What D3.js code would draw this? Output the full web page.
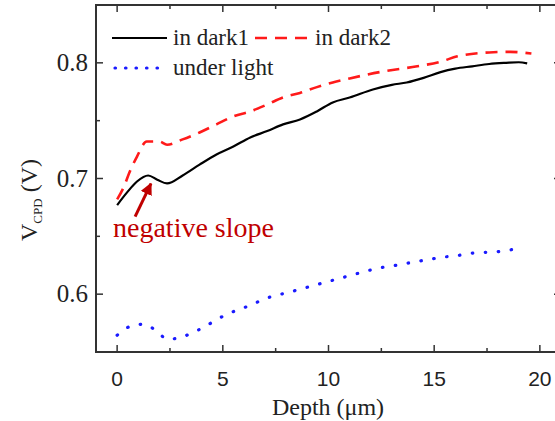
<!DOCTYPE html>
<html>
<head>
<meta charset="utf-8">
<script src="https://cdn.jsdelivr.net/npm/d3@7"></script>
<style>
  body { margin: 0; background: #fff; }
  svg { display: block; }
</style>
</head>
<body>
<script>
// Values
const dark1 = [
  [0, 0.677], [0.47, 0.688], [0.94, 0.6974], [1.47, 0.7026], [1.9, 0.699], [2.36, 0.6957],
  [3.1, 0.7026], [3.9, 0.712], [4.7, 0.7208], [5.5, 0.7277], [6.3, 0.7355], [7.1, 0.741],
  [7.85, 0.7468], [8.65, 0.751], [9.45, 0.758], [10.2, 0.7658], [11.0, 0.770], [12.1, 0.777],
  [13.0, 0.781], [13.7, 0.783], [14.5, 0.787], [15.3, 0.792], [16.0, 0.795], [16.8, 0.797],
  [17.6, 0.799], [18.4, 0.800], [19.0, 0.8005], [19.4, 0.7995]
];
const dark2 = [
  [0, 0.682], [0.3, 0.692], [0.6, 0.706], [0.94, 0.719], [1.4, 0.732], [2.0, 0.732],
  [2.36, 0.7292], [3.1, 0.7338], [3.9, 0.7398], [4.7, 0.7468], [5.5, 0.7537], [6.3, 0.758],
  [7.1, 0.764], [7.85, 0.770], [8.65, 0.774], [9.45, 0.779], [10.2, 0.783], [11.0, 0.7865],
  [12.6, 0.7926], [14.2, 0.797], [15.3, 0.801], [16.1, 0.8056], [17.6, 0.809], [18.6, 0.8095],
  [19.6, 0.808]
];
const underLight = [
  [0, 0.5645], [0.6, 0.572], [1.28, 0.574], [1.8, 0.569], [2.4, 0.561], [3.07, 0.563],
  [3.6, 0.567], [4.16, 0.572], [4.7, 0.578], [5.25, 0.583], [5.8, 0.587], [6.4, 0.591],
  [6.9, 0.5955], [7.55, 0.599], [8.2, 0.602], [8.8, 0.605], [9.4, 0.608], [10.0, 0.611],
  [10.6, 0.614], [11.2, 0.617], [11.8, 0.620], [12.5, 0.623], [13.2, 0.625], [13.8, 0.627],
  [14.1, 0.628], [14.75, 0.630], [15.4, 0.632], [16.0, 0.633], [16.6, 0.635], [17.2, 0.636],
  [17.9, 0.6365], [18.5, 0.638], [19.2, 0.640]
];
const xTicks = [0, 5, 10, 15, 20];
const yTicks = [0.6, 0.7, 0.8];
const legendLabels = ["in dark1", "in dark2", "under light"];
const annotation = "negative slope";

const width = 555, height = 421;
const margin = { left: 96, top: 5, right: -6, bottom: 69 };

const svg = d3.select("body").append("svg")
  .attr("width", width)
  .attr("height", height);

const x = d3.scaleLinear().domain([-1, 21]).range([margin.left, width - margin.right]);
const y = d3.scaleLinear().domain([0.55, 0.85]).range([height - margin.bottom, margin.top]);

const axisColor = "#333";
const serif = "'Liberation Serif', 'Times New Roman', serif";
const sans = "'Liberation Sans', Arial, sans-serif";

// frame
svg.append("rect")
  .attr("x", x(-1)).attr("y", y(0.85))
  .attr("width", x(21) - x(-1)).attr("height", y(0.55) - y(0.85))
  .attr("fill", "none").attr("stroke", axisColor).attr("stroke-width", 2);

// inward ticks on all four sides
const xMinor = d3.range(0, 21, 2.5).filter(v => v % 5 !== 0);
const yMinor = [0.55, 0.65, 0.75, 0.85];
const tickG = svg.append("g").attr("stroke", axisColor).attr("stroke-width", 1.5);

xTicks.forEach(v => {
  tickG.append("line").attr("x1", x(v)).attr("x2", x(v)).attr("y1", y(0.55)).attr("y2", y(0.55) - 7);
  tickG.append("line").attr("x1", x(v)).attr("x2", x(v)).attr("y1", y(0.85)).attr("y2", y(0.85) + 7);
});
xMinor.forEach(v => {
  tickG.append("line").attr("x1", x(v)).attr("x2", x(v)).attr("y1", y(0.55)).attr("y2", y(0.55) - 4);
  tickG.append("line").attr("x1", x(v)).attr("x2", x(v)).attr("y1", y(0.85)).attr("y2", y(0.85) + 4);
});
yTicks.forEach(v => {
  tickG.append("line").attr("x1", x(-1)).attr("x2", x(-1) + 7).attr("y1", y(v)).attr("y2", y(v));
  tickG.append("line").attr("x1", x(21)).attr("x2", x(21) - 7).attr("y1", y(v)).attr("y2", y(v));
});
yMinor.forEach(v => {
  tickG.append("line").attr("x1", x(-1)).attr("x2", x(-1) + 4).attr("y1", y(v)).attr("y2", y(v));
  tickG.append("line").attr("x1", x(21)).attr("x2", x(21) - 4).attr("y1", y(v)).attr("y2", y(v));
});

// tick labels
svg.append("g").selectAll("text").data(xTicks).join("text")
  .attr("x", d => x(d)).attr("y", y(0.55) + 34)
  .attr("text-anchor", "middle")
  .attr("font-family", sans).attr("font-size", 21).attr("fill", "#222")
  .text(d => d);

svg.append("g").selectAll("text").data(yTicks).join("text")
  .attr("x", x(-1) - 8).attr("y", d => y(d) + 8)
  .attr("text-anchor", "end")
  .attr("font-family", serif).attr("font-size", 25).attr("fill", "#222")
  .text(d => d.toFixed(1));

// axis titles
svg.append("text")
  .attr("x", 328).attr("y", 415)
  .attr("text-anchor", "middle")
  .attr("font-family", serif).attr("font-size", 24).attr("fill", "#222")
  .text("Depth (\u03bcm)");

const yTitle = svg.append("text")
  .attr("transform", "translate(37,200) rotate(-90)")
  .attr("text-anchor", "middle")
  .attr("font-family", serif).attr("font-size", 24).attr("fill", "#222");
yTitle.append("tspan").text("V");
yTitle.append("tspan").attr("font-size", 13).attr("dy", 5).text("CPD");
yTitle.append("tspan").attr("dy", -5).text(" (V)");

// series
const line = d3.line().x(d => x(d[0])).y(d => y(d[1])).curve(d3.curveMonotoneX);

svg.append("path").datum(underLight)
  .attr("d", line).attr("fill", "none")
  .attr("stroke", "#1a1aff").attr("stroke-width", 3.2)
  .attr("stroke-linecap", "round").attr("stroke-dasharray", "0.5,12.5");

svg.append("path").datum(dark2)
  .attr("d", line).attr("fill", "none")
  .attr("stroke", "#ff1a1a").attr("stroke-width", 2.6)
  .attr("stroke-dasharray", "12,8");

svg.append("path").datum(dark1)
  .attr("d", line).attr("fill", "none")
  .attr("stroke", "#000").attr("stroke-width", 2.2);

// legend
const leg = svg.append("g").attr("font-family", serif).attr("font-size", 23).attr("fill", "#222");
leg.append("line").attr("x1", 112).attr("x2", 167).attr("y1", 38).attr("y2", 38)
  .attr("stroke", "#000").attr("stroke-width", 2.2);
leg.append("text").attr("x", 173).attr("y", 45).text(legendLabels[0]);
leg.append("line").attr("x1", 255).attr("x2", 310).attr("y1", 38).attr("y2", 38)
  .attr("stroke", "#ff1a1a").attr("stroke-width", 2.6).attr("stroke-dasharray", "12,8");
leg.append("text").attr("x", 315).attr("y", 45).text(legendLabels[1]);
leg.append("line").attr("x1", 115).attr("x2", 160).attr("y1", 68).attr("y2", 68)
  .attr("stroke", "#1a1aff").attr("stroke-width", 3.2)
  .attr("stroke-linecap", "round").attr("stroke-dasharray", "0.5,10");
leg.append("text").attr("x", 173).attr("y", 75).text(legendLabels[2]);

// annotation arrow
const red = "#c00000";
svg.append("defs").append("marker")
  .attr("id", "head").attr("viewBox", "0 0 10 10")
  .attr("refX", 9).attr("refY", 5)
  .attr("markerWidth", 4).attr("markerHeight", 4)
  .attr("orient", "auto")
  .append("path").attr("d", "M0,0 L10,5 L0,10 Z").attr("fill", red);

svg.append("line")
  .attr("x1", x(0.85)).attr("y1", y(0.667))
  .attr("x2", x(1.6)).attr("y2", y(0.6955))
  .attr("stroke", red).attr("stroke-width", 3)
  .attr("marker-end", "url(#head)");

svg.append("text")
  .attr("x", 113).attr("y", 237)
  .attr("font-family", serif).attr("font-size", 28).attr("fill", red)
  .text(annotation);
</script>
</body>
</html>
